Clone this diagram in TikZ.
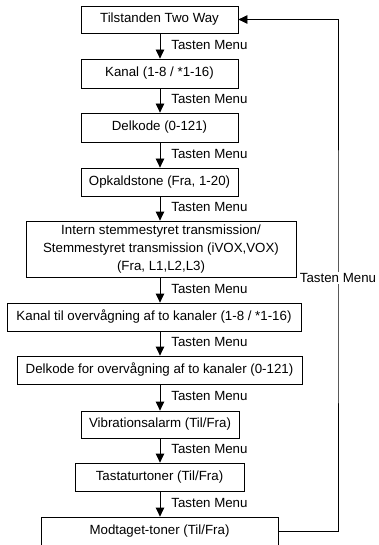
\documentclass[tikz,border=0pt]{standalone}
\usepackage{fontspec}
\setmainfont{Liberation Sans}
\usetikzlibrary{arrows.meta}
\begin{document}
\begin{tikzpicture}[x=1pt,y=-1pt,
  every node/.style={font=\fontsize{13.3}{18}\selectfont},
  stepbox/.style={draw, line width=0.8pt, inner sep=0pt, align=center},
  arr/.style={line width=0.8pt, -{Triangle[width=8.5pt,length=9pt]}},
  lbl/.style={inner sep=0pt, anchor=west}]
\useasboundingbox (0,0) rectangle (379,545);
\coordinate (ax) at (160,0);
\node[stepbox, minimum width=157pt, minimum height=27pt] (b1) at (159.5,19.5) {Tilstanden Two Way};
\node[stepbox, minimum width=157pt, minimum height=29pt] (b2) at (159.5,73.5) {Kanal (1-8 / *1-16)};
\node[stepbox, minimum width=157pt, minimum height=29pt] (b3) at (159.5,127.5) {Delkode (0-121)};
\node[stepbox, minimum width=157pt, minimum height=28pt] (b4) at (159.5,182) {Opkaldstone (Fra, 1-20)};
\node[stepbox, minimum width=270pt, minimum height=56pt] (b5) at (161,249) {Intern stemmestyret transmission/\\Stemmestyret transmission (iVOX,VOX)\\(Fra, L1,L2,L3)};
\node[stepbox, minimum width=294pt, minimum height=28pt] (b6) at (154,317) {Kanal til overvågning af to kanaler (1-8 / *1-16)};
\node[stepbox, minimum width=285pt, minimum height=28pt] (b7) at (159.5,370) {Delkode for overvågning af to kanaler (0-121)};
\node[stepbox, minimum width=158pt, minimum height=27pt] (b8) at (160,424.5) {Vibrationsalarm (Til/Fra)};
\node[stepbox, minimum width=169pt, minimum height=28pt] (b9) at (159.5,477) {Tastaturtoner (Til/Fra)};
\node[stepbox, minimum width=237pt, minimum height=28pt] (b10) at (159.5,531) {Modtaget-toner (Til/Fra)};
\foreach \a/\b in {b1/b2,b2/b3,b3/b4,b4/b5,b5/b6,b6/b7,b7/b8,b8/b9,b9/b10}{
  \draw[arr] (\a.south -| ax) -- (\b.north -| ax)
    node[midway, lbl, xshift=11pt, yshift=1.5pt] {Tasten Menu};
}
\coordinate (rc) at (338,278);
\draw[arr] (b10.east) -| (rc) |- (b1.east);
\node[fill=white, inner sep=1pt] (rl) at (rc) {Tasten Menu};
\end{tikzpicture}
\end{document}
